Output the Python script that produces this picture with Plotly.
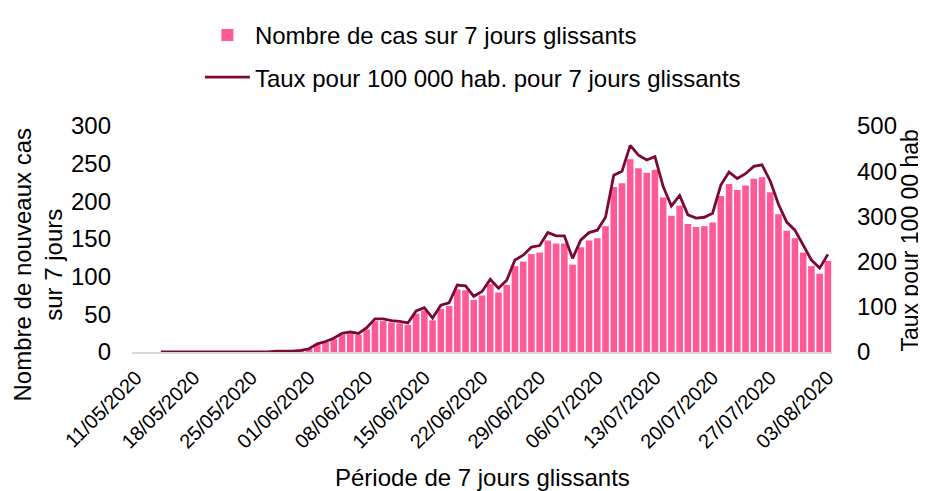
import datetime as dt
import plotly.graph_objects as go

# one category per day, 11/05/2020 -> 03/08/2020
start = dt.date(2020, 5, 11)
dates = [(start + dt.timedelta(days=i)).strftime("%d/%m/%Y") for i in range(85)]
tick_labels = dates[::7]

# number of cases over 7 sliding days
cases = [None, None, None,
         0, 0, 0, 0, 0, 0, 0, 0, 0, 0, 0, 0, 0, 0,
         1, 1, 1, 2, 4, 10, 13, 17, 23, 25, 23, 30, 41, 41,
         39, 38, 36, 51, 55, 42, 57, 61, 83, 82, 69, 75, 90, 79,
         89, 114, 120, 130, 132, 148, 144, 144, 116, 139, 148, 151, 167, 219,
         224, 256, 244, 238, 242, 205, 181, 194, 170, 166, 167, 172, 207, 223,
         215, 221, 230, 232, 212, 183, 161, 151, 132, 114, 104, 121]

# rate per 100 000 inhabitants over 7 sliding days
rate = [None, None, None,
        0, 0, 0, 0, 0, 0, 0, 0, 0, 0, 0, 0, 0, 0,
        1.8, 1.8, 1.8, 3.6, 7.1, 17.9, 23.2, 30.3, 41.1, 44.6, 41.1, 53.6, 73.2, 73.2,
        69.6, 67.8, 64.3, 91.0, 98.2, 75.0, 103.5, 108.9, 148.2, 146.4, 123.2, 133.9, 160.7, 141.0,
        158.9, 203.5, 214.2, 232.1, 235.6, 264.2, 257.0, 257.0, 207.1, 248.1, 264.2, 269.5, 298.1, 390.9,
        399.8, 457.0, 435.5, 424.8, 432.0, 365.9, 323.1, 346.3, 303.5, 296.3, 298.1, 307.0, 369.5, 398.1,
        383.8, 394.5, 410.6, 414.1, 378.4, 326.7, 287.4, 269.5, 235.6, 203.5, 185.6, 216.0]

FONT = "Liberation Sans, Arial, sans-serif"

fig = go.Figure()
fig.add_trace(go.Bar(
    x=dates, y=cases, name="Nombre de cas sur 7 jours glissants",
    marker=dict(color="#FF5A97", line=dict(width=0)),
    legendgroup="a",
))
fig.add_trace(go.Scatter(
    x=dates, y=rate, name="Taux pour 100 000 hab. pour 7 jours glissants",
    mode="lines", line=dict(color="#7A0A34", width=2.8),
    yaxis="y2", legendgroup="b",
))

# the page adds an 8px body margin, so the figure is 8px smaller than the window
fig.update_layout(
    width=918, height=483,
    margin=dict(l=124, r=94, t=118, b=139),
    paper_bgcolor="white", plot_bgcolor="white",
    font=dict(family=FONT, size=24, color="black"),
    bargap=0.2,
    showlegend=True,
    legend=dict(
        xref="paper", yref="container",
        x=0.097, y=0.99, xanchor="left", yanchor="top",
        orientation="v", itemwidth=45, tracegroupgap=8,
        font=dict(size=24), bgcolor="rgba(0,0,0,0)",
    ),
    xaxis=dict(
        type="category", tickmode="array", tickvals=tick_labels, ticktext=tick_labels,
        tickangle=-45, tickfont=dict(size=20), showgrid=False,
        showline=True, linecolor="#D9D9D9", linewidth=2, ticks="",
        ticklabelstandoff=4, automargin=False,
    ),
    yaxis=dict(
        range=[0, 300], tickvals=[0, 50, 100, 150, 200, 250, 300],
        showgrid=False, zeroline=False, ticks="", ticklabelstandoff=20,
        automargin=False,
    ),
    yaxis2=dict(
        range=[0, 500], tickvals=[0, 100, 200, 300, 400, 500], overlaying="y", side="right",
        showgrid=False, zeroline=False, ticks="", ticklabelstandoff=24,
        automargin=False,
    ),
    annotations=[
        dict(text="Nombre de nouveaux cas<br>sur 7 jours", xref="paper", yref="paper",
             x=-0.135, y=0.385, textangle=-90, showarrow=False,
             xanchor="center", yanchor="middle", font=dict(size=24)),
        dict(text="Taux pour 100 00 hab", xref="paper", yref="paper",
             x=1.111, y=0.496, textangle=-90, showarrow=False,
             xanchor="center", yanchor="middle", font=dict(size=23)),
        dict(text="Période de 7 jours glissants", xref="paper", yref="paper",
             x=0.5, y=-0.5575, showarrow=False,
             xanchor="center", yanchor="middle", font=dict(size=24)),
    ],
)

fig.write_html("out.html")
